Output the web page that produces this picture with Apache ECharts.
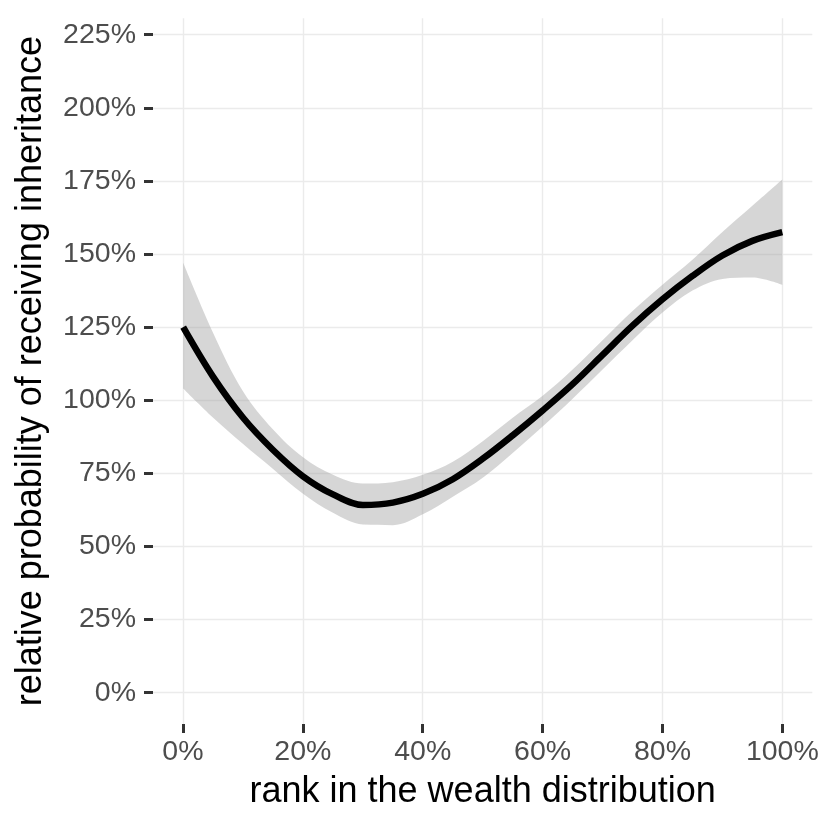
<!DOCTYPE html>
<html><head><meta charset="utf-8">
<script src="https://cdn.jsdelivr.net/npm/echarts@6/dist/echarts.min.js"></script>
<style>html,body{margin:0;padding:0;background:#fff}#c{width:830px;height:830px}</style>
</head><body><div id="c"></div>
<script>
const rank  = [0, 5, 10, 15, 20, 25, 30, 35, 40, 45, 50, 55, 60, 65, 70, 75, 80, 85, 90, 95, 100];
const fit   = [125, 108, 94, 83, 74, 67.8, 64.2, 65, 68, 73, 80, 88, 96.5, 105.5, 115.5, 125.5, 134.5, 142.5, 149.5, 154.5, 157.5];
const lower = [104, 94, 85, 76.5, 68, 61.5, 57.5, 57.3, 61, 67, 73.5, 82, 91, 100.5, 110.5, 120.5, 130, 137.5, 141.5, 142, 139.5];
const upper = [147, 123, 103, 90, 80.5, 74.5, 71.5, 72, 74.5, 79, 86, 94, 101.5, 110.5, 120.5, 130.5, 139.5, 148, 157.5, 166.5, 175.5];
const xTicks = [0, 20, 40, 60, 80, 100];
const yTicks = [0, 25, 50, 75, 100, 125, 150, 175, 200, 225];

const FONT = '"Liberation Sans", Arial, Helvetica, sans-serif';
const chart = echarts.init(document.getElementById('c'), null, {renderer: 'canvas'});
const band = upper.map((u, i) => u - lower[i]);
const Y_MIN = -10.7, Y_MAX = 230.6;

chart.setOption({
  animation: false,
  backgroundColor: '#ffffff',
  grid: [
    {left: 153, right: 17.7, top: 18.3, bottom: 106, containLabel: false},
    {left: 183.2, right: 47.7, top: 18.3, bottom: 106, containLabel: false}
  ],
  xAxis: [{
    type: 'value', gridIndex: 0, min: -5, max: 105,
    name: 'rank in the wealth distribution', nameLocation: 'middle', nameGap: 50,
    nameTextStyle: {color: '#000', fontSize: 36, fontFamily: FONT},
    axisLine: {show: false, onZero: false},
    axisTick: {show: true, customValues: xTicks, length: 9, lineStyle: {color: '#333333', width: 3}},
    axisLabel: {customValues: xTicks, formatter: '{value}%', color: '#4D4D4D', fontSize: 28.5, fontFamily: FONT, margin: 14},
    splitLine: {show: true, lineStyle: {color: '#EBEBEB', width: 1.4}}
  }, {
    type: 'category', gridIndex: 1, data: rank, boundaryGap: false, show: false,
    axisLine: {show: false, onZero: false}, axisTick: {show: false}, axisLabel: {show: false}, splitLine: {show: false}
  }],
  yAxis: [{
    type: 'value', gridIndex: 0, min: Y_MIN, max: Y_MAX,
    name: 'relative probability of receiving inheritance', nameLocation: 'middle', nameGap: 104,
    nameTextStyle: {color: '#000', fontSize: 36, fontFamily: FONT},
    axisLine: {show: false, onZero: false},
    axisTick: {show: true, customValues: yTicks, length: 9, lineStyle: {color: '#333333', width: 3}},
    axisLabel: {customValues: yTicks, formatter: '{value}%', color: '#4D4D4D', fontSize: 28.5, fontFamily: FONT, margin: 17},
    splitLine: {show: true, lineStyle: {color: '#EBEBEB', width: 1.4}}
  }, {
    type: 'value', gridIndex: 1, min: Y_MIN, max: Y_MAX, show: false,
    axisLine: {show: false, onZero: false}, axisTick: {show: false}, axisLabel: {show: false}, splitLine: {show: false}
  }],
  series: [
    {type: 'line', xAxisIndex: 1, yAxisIndex: 1, data: lower, stack: 'ci', symbol: 'none', smooth: 0.35,
     lineStyle: {opacity: 0}, areaStyle: {opacity: 0}, silent: true, z: 1},
    {type: 'line', xAxisIndex: 1, yAxisIndex: 1, data: band, stack: 'ci', symbol: 'none', smooth: 0.35,
     lineStyle: {opacity: 0}, areaStyle: {color: 'rgba(153,153,153,0.4)', opacity: 1}, silent: true, z: 1},
    {type: 'line', xAxisIndex: 1, yAxisIndex: 1, data: fit, symbol: 'none', smooth: 0.35,
     lineStyle: {color: '#000000', width: 6.5, cap: 'butt'}, z: 3}
  ]
});
</script>
</body></html>
